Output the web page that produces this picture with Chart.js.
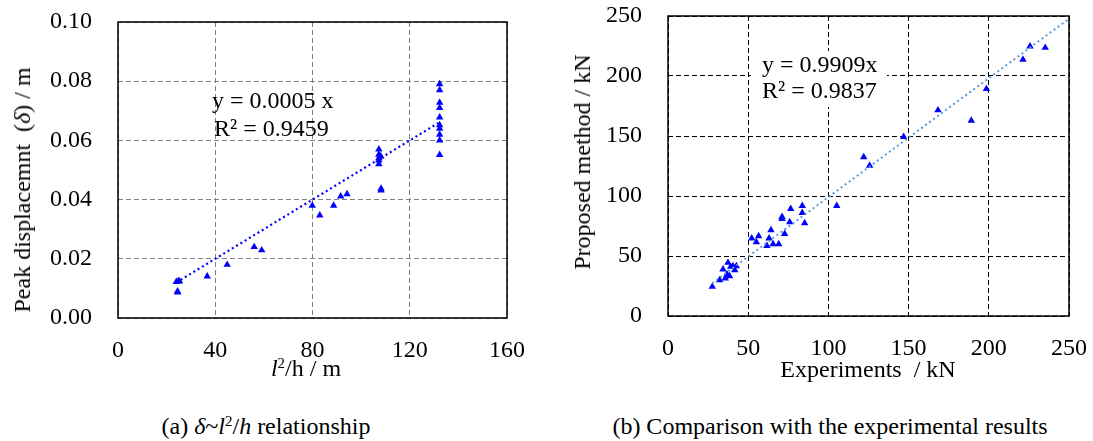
<!DOCTYPE html>
<html><head><meta charset="utf-8">
<script src="https://cdn.jsdelivr.net/npm/chart.js@4/dist/chart.umd.min.js"></script>
<style>
body{margin:0;background:#fff;width:1093px;height:441px;overflow:hidden;position:relative;font-family:"Liberation Serif","Times New Roman",serif;color:#000}
canvas{position:absolute;top:0}
.t{position:absolute;white-space:nowrap;font-size:24px;line-height:28px}
.c{transform:translate(-50%,-50%)}
.r{transform:translate(-50%,-50%) rotate(-90deg)}
sup{font-size:0.62em;vertical-align:0.55em;line-height:0}
</style></head><body>
<canvas id="a" width="545" height="400" style="left:0"></canvas>
<canvas id="b" width="533" height="400" style="left:560px"></canvas>

<div class="t r" style="left:22px;top:190px">Peak displacemnt&nbsp; (<i>δ</i>) / m</div>
<div class="t c" style="left:306px;top:368px"><i>l</i><sup>2</sup>/h / m</div>
<div class="t" style="left:212px;top:86px">y = 0.0005 x</div>
<div class="t" style="left:214px;top:114px">R² = 0.9459</div>
<div class="t c" style="left:266px;top:426px">(a) <i>δ</i>~<i>l</i><sup>2</sup>/<i>h</i> relationship</div>

<div class="t r" style="left:582px;top:162px">Proposed method / kN</div>
<div class="t c" style="left:868px;top:369px">Experiments&nbsp; / kN</div>
<div class="t" style="left:751px;top:51px;width:136px;height:56px;background:#fff"></div>
<div class="t" style="left:762px;top:50px">y = 0.9909x</div>
<div class="t" style="left:762px;top:76px">R² = 0.9837</div>
<div class="t c" style="left:830px;top:426px">(b) Comparison with the experimental results</div>

<script>
// (a) peak displacement vs l^2/h
const dispX = [24.0,24.8,25.3,24.5,24.5,36.7,44.9,56.0,59.1,79.9,83.0,88.7,91.6,94.2,
  107.3,107.3,108.1,107.3,107.3,107.3,108.2,108.2,
  132.3,132.3,132.3,132.3,132.3,132.3,132.3,132.3,132.3,132.3];
const dispY = [0.0122,0.0125,0.0124,0.0090,0.0087,0.0141,0.0180,0.0240,0.0229,0.0380,0.0347,0.0380,0.0411,0.0419,
  0.0570,0.0552,0.0546,0.0540,0.0533,0.0520,0.0437,0.0431,
  0.0790,0.0770,0.0728,0.0710,0.0678,0.0652,0.0640,0.0620,0.0600,0.0551];
const dispSlope = 0.0005;
const dispTrendX = [24.0, 132.3];
const dispXTicks = [0,40,80,120,160];
const dispYTicks = [0,0.02,0.04,0.06,0.08,0.10];

// (b) proposed method vs experiments
const expX = [27.6,32.2,35.7,34.3,37.4,38.4,36.8,40.5,42.6,41.6,39.1,52.2,56.5,55.1,61.7,65.5,69.0,63.0,64.2,72.7,
  71.1,71.1,75.9,76.5,83.7,83.7,85.2,105.2,122.0,125.7,146.9,168.3,189.1,198.5,221.3,225.7,235.2];
const propY = [24.4,30.0,31.4,38.9,44.4,33.3,34.7,41.6,41.6,38.3,41.1,64.7,66.6,61.6,58.5,59.9,59.9,64.7,71.6,68.5,
  82.7,81.0,78.2,89.3,91.8,86.0,77.4,91.8,132.4,125.4,149.3,171.5,162.9,189.2,213.7,224.8,223.6];
const compSlope = 0.9909;
const compTrendX = [27.6, 250];
const compTicks = [0,50,100,150,200,250];

const FONT = {family:'"Liberation Serif","Times New Roman",serif', size:24};

const framePlugin = {id:'frame', afterDraw(c){
  const {left,top,right,bottom} = c.chartArea; const ctx = c.ctx;
  ctx.save(); ctx.setLineDash([]); ctx.strokeStyle='#000'; ctx.lineWidth=1.5;
  ctx.strokeRect(left,top,right-left,bottom-top); ctx.restore();
}};

function pts(xs, ys){ return xs.map((x,i)=>({x:x, y:ys[i]})); }
function trend(xs, k){ return xs.map(x=>({x:x, y:k*x})); }
function setTicks(vals){ return s => { s.ticks = vals.map(v=>({value:v})); }; }

function makeChart(id, o){
  return new Chart(document.getElementById(id), {
    type:'scatter',
    data:{datasets:[
      {data:o.trend, showLine:true, pointRadius:0, borderColor:o.trendColor, borderWidth:o.trendWidth, borderDash:o.trendDash, fill:false},
      {data:o.points, pointStyle:'triangle', pointRadius:4.3, backgroundColor:'#0000ff', borderColor:'#0000ff', borderWidth:0}
    ]},
    options:{
      responsive:false, devicePixelRatio:1, animation:false, events:[],
      layout:{padding:o.padding},
      plugins:{legend:{display:false}, tooltip:{enabled:false}},
      scales:{
        x:{type:'linear', min:o.xMin, max:o.xMax, afterBuildTicks:setTicks(o.xTicks),
           afterFit(s){ s.height = o.xH; s.paddingLeft = 0; s.paddingRight = 0; },
           grid:{color:o.gridColor, lineWidth:1, drawTicks:false}, border:{display:false, dash:[5,3]},
           ticks:{font:FONT, color:'#000', padding:o.xPad, maxRotation:0, callback:o.xFmt}},
        y:{type:'linear', min:o.yMin, max:o.yMax, afterBuildTicks:setTicks(o.yTicks),
           afterFit(s){ s.width = o.yW; s.paddingTop = 0; s.paddingBottom = 0; },
           grid:{color:o.gridColor, lineWidth:1, drawTicks:false}, border:{display:false, dash:[5,3]},
           ticks:{font:FONT, color:'#000', padding:o.yPad, callback:o.yFmt}}
      }
    },
    plugins:[framePlugin]
  });
}

makeChart('a', {
  points:pts(dispX, dispY), trend:trend(dispTrendX, dispSlope),
  trendColor:'#0000ff', trendWidth:2.2, trendDash:[2,3],
  padding:{top:22, right:38, left:0, bottom:0}, xH:82, yW:118, xPad:18, yPad:26,
  xMin:0, xMax:160, yMin:0, yMax:0.10, xTicks:dispXTicks, yTicks:dispYTicks,
  gridColor:'#7f7f7f', xFmt:v=>String(v), yFmt:v=>v.toFixed(2)
});
makeChart('b', {
  points:pts(expX, propY), trend:trend(compTrendX, compSlope),
  trendColor:'#5b9bd5', trendWidth:2, trendDash:[2,3],
  padding:{top:16, right:24, left:0, bottom:0}, xH:84, yW:108, xPad:18, yPad:26,
  xMin:0, xMax:250, yMin:0, yMax:250, xTicks:compTicks, yTicks:compTicks,
  gridColor:'#000000', xFmt:v=>String(v), yFmt:v=>String(v)
});
</script>
</body></html>
